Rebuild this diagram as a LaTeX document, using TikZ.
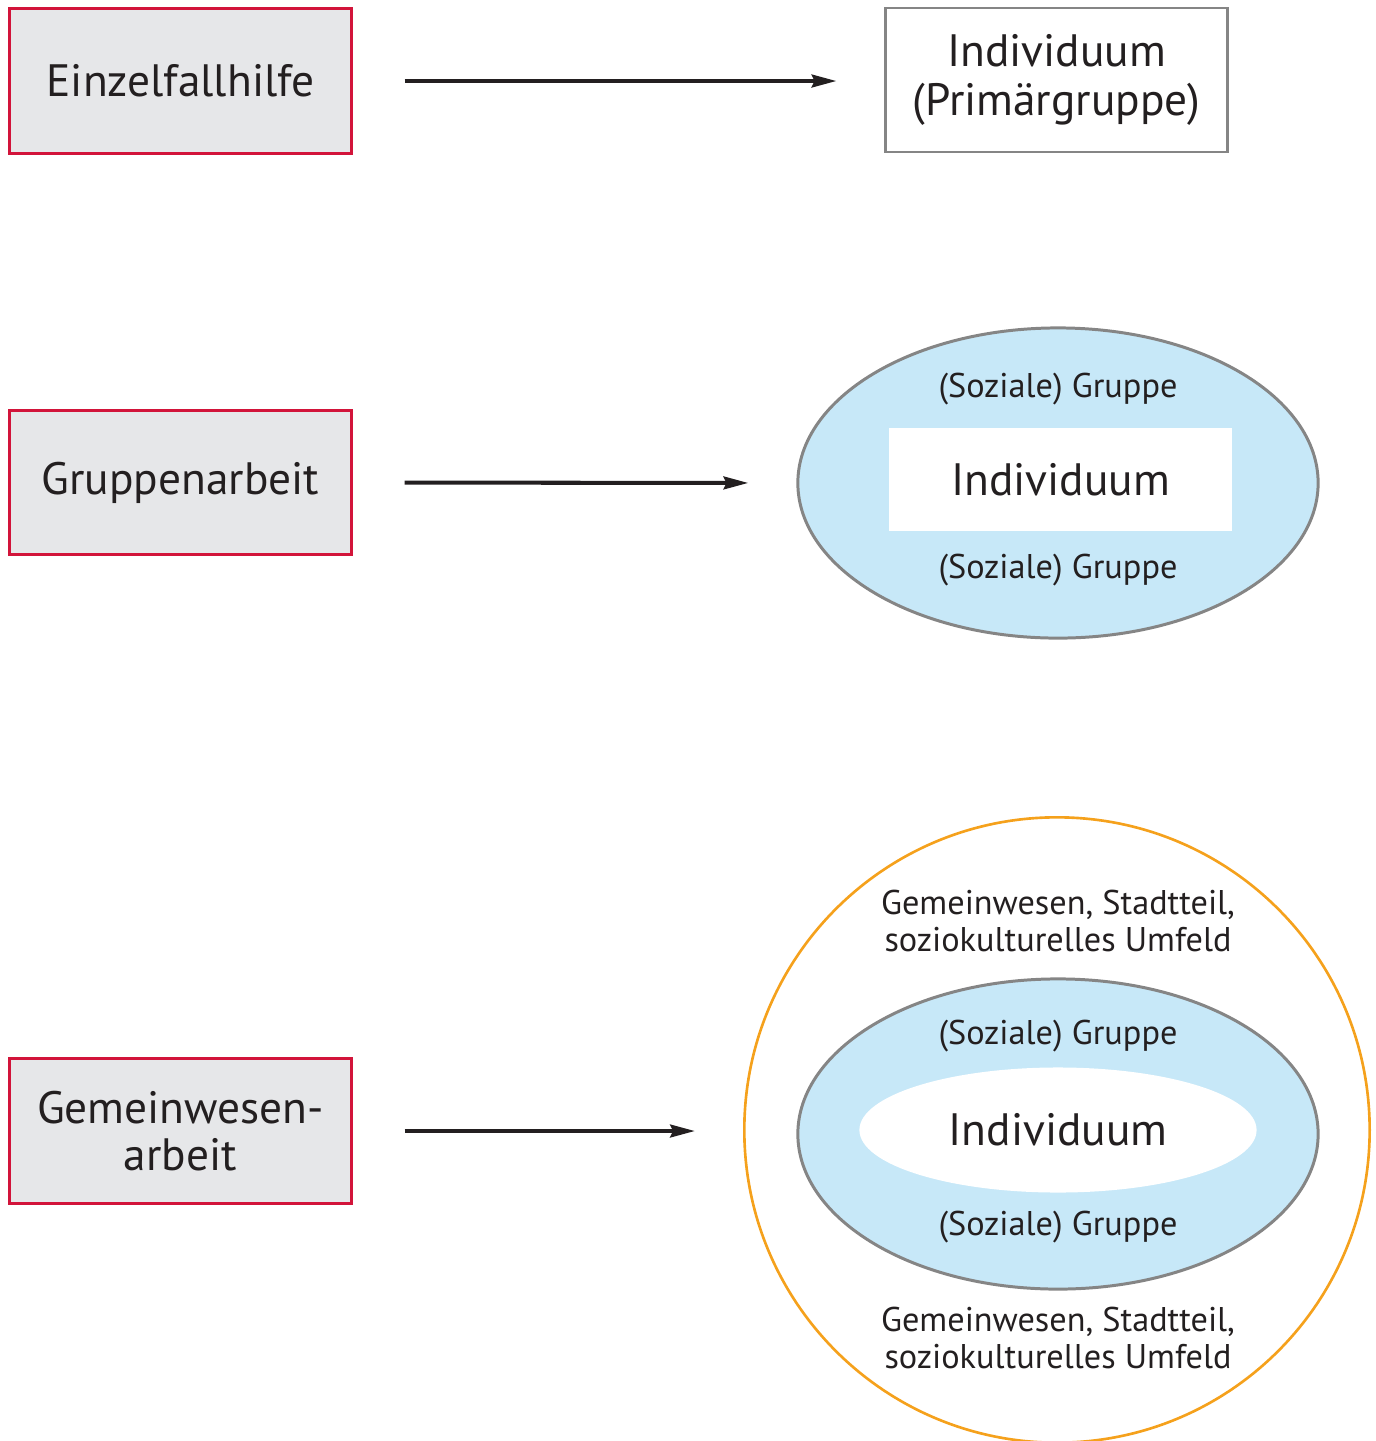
\documentclass[tikz,border=0pt]{standalone}
\usepackage{fontspec}
\setmainfont{PT Sans}
\usetikzlibrary{arrows.meta,shapes.geometric}
\definecolor{methodred}{HTML}{D2143A}
\definecolor{methodgray}{HTML}{E6E7E9}
\definecolor{groupblue}{HTML}{C7E8F8}
\definecolor{edgegray}{HTML}{858585}
\definecolor{ringorange}{HTML}{F5A11C}
\definecolor{inkdark}{HTML}{231F20}
\newcommand{\bigtext}{\fontsize{12.9}{13.8}\selectfont}
\newcommand{\smalltext}{\fontsize{9.75}{10.5}\selectfont}

\tikzset{
    method/.style={draw=methodred, fill=methodgray, line width=0.85pt, minimum width=3.41cm, minimum height=1.44cm, align=center, font=\bigtext, text=inkdark},
    target/.style={draw=edgegray, fill=white, line width=0.8pt, minimum width=3.41cm, minimum height=1.44cm, align=center, font=\bigtext, text=inkdark},
    group/.style={ellipse, draw=edgegray, fill=groupblue, line width=0.85pt, minimum width=5.2cm, minimum height=3.1cm},
    label/.style={font=\smalltext, text=inkdark, align=center},
    flow/.style={->, line width=1.15pt, inkdark, shorten <=0.52cm, shorten >=0.48cm}
}

\begin{document}
\begin{tikzpicture}[x=0.01cm, y=-0.01cm, >={Stealth[length=7pt,width=3.6pt,inset=0.8pt]}]
    \useasboundingbox (0, 0) rectangle (1376, 1441);

    % methods
    \node [method] (einzel) at (180.5, 81) {Einzelfallhilfe};
    \node [method] (gruppe) at (180.5, 482.5) {Gruppenarbeit};
    \node [method] (gemein) at (180.5, 1131) {Gemeinwesen-\\[-0.3pt]arbeit};

    % top: individual
    \node [target] (indiv) at (1056.5, 80) {Individuum\\(Primärgruppe)};

    % middle: group
    \node [group] (grp) at (1058, 483) {};
    \node [fill=white, minimum width=3.43cm, minimum height=1.03cm, font=\bigtext, text=inkdark] (grpind) at (1060.5, 479.5) {Individuum};
    \node [label] (grptop) at (1058, 389) {(Soziale) Gruppe};
    \node [label] (grpbot) at (1058, 570) {(Soziale) Gruppe};

    % bottom: community
    \node [circle, draw=ringorange, line width=0.75pt, minimum size=6.25cm] (ring) at (1057, 1130) {};
    \node [group] (ringgrp) at (1058, 1134) {};
    \node [ellipse, fill=white, minimum width=3.97cm, minimum height=1.25cm, font=\bigtext, text=inkdark] (ringind) at (1058, 1130) {Individuum};
    \node [label] (ringgrptop) at (1058, 1036) {(Soziale) Gruppe};
    \node [label] (ringgrpbot) at (1058, 1227) {(Soziale) Gruppe};
    \node [label] (ringtop) at (1058, 921) {Gemeinwesen, Stadtteil,\\soziokulturelles Umfeld};
    \node [label] (ringbot) at (1058, 1338) {Gemeinwesen, Stadtteil,\\soziokulturelles Umfeld};

    % arrows
    \draw [flow] (einzel.east) -- (einzel.east -| indiv.west);
    \draw [flow] (gruppe.east) -- (grp.west);
    \draw [flow] (gemein.east) -- (gemein.east -| ring.west);
\end{tikzpicture}
\end{document}
